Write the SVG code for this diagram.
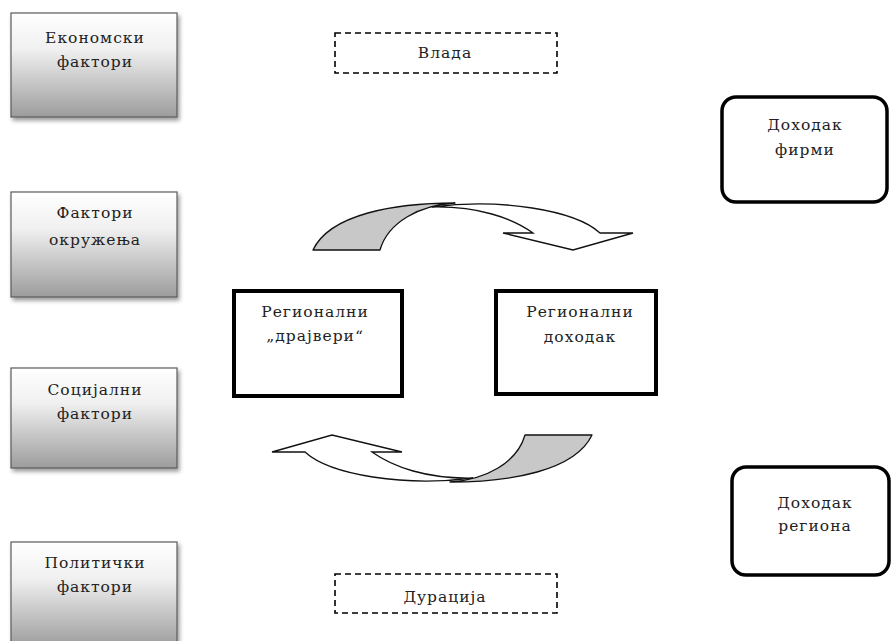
<svg xmlns="http://www.w3.org/2000/svg" width="892" height="641" viewBox="0 0 892 641">
<defs>
<linearGradient id="g" x1="0" y1="0" x2="0" y2="1">
<stop offset="0" stop-color="#ffffff"/>
<stop offset="0.35" stop-color="#f0f0f0"/>
<stop offset="1" stop-color="#9c9c9c"/>
</linearGradient>
<filter id="sh" x="-10%" y="-10%" width="130%" height="130%">
<feGaussianBlur in="SourceAlpha" stdDeviation="2"/>
<feOffset dx="2" dy="3" result="b"/>
<feComponentTransfer><feFuncA type="linear" slope="0.4"/></feComponentTransfer>
<feMerge><feMergeNode/><feMergeNode in="SourceGraphic"/></feMerge>
</filter>
<g id="curvedArrow">
<path class="back" d="M313,250 C330,214 395,203 455,203 C420,205 388,222 380,250 Z"/>
<path class="front" d="M432,207 C500,198 575,210 600,233 L633,233 L573,250 L503,233 L533,233 C512,218 478,206 432,207 Z"/>
</g>
</defs>
<style>
text{font-family:"DejaVu Serif","Liberation Serif",serif;font-size:15.5px;letter-spacing:1px;fill:#222;text-anchor:middle}
.grad{fill:url(#g);stroke:#5a5a5a;stroke-width:1.2;filter:url(#sh)}
.thick{fill:#fff;stroke:#000;stroke-width:4}
.round{fill:#fff;stroke:#000;stroke-width:3.5}
.dash{fill:#fff;stroke:#000;stroke-width:1.6;stroke-dasharray:6,4}
.back{fill:#c8c8c8;stroke:#111;stroke-width:1.3;stroke-linejoin:round}
.front{fill:#fff;stroke:#111;stroke-width:1.3;stroke-linejoin:miter}
</style>
<rect width="892" height="641" fill="#fff"/>

<g id="n-ekonomski">
<rect class="grad" x="11" y="13" width="166" height="104"/>
<text x="95" y="43">Економски</text>
<text x="95" y="67">фактори</text>
</g>
<g id="n-okruzenja">
<rect class="grad" x="11" y="192" width="166" height="105"/>
<text x="95" y="218">Фактори</text>
<text x="95" y="245">окружења</text>
</g>
<g id="n-socijalni">
<rect class="grad" x="11" y="368" width="166" height="100"/>
<text x="95" y="395">Социјални</text>
<text x="95" y="419">фактори</text>
</g>
<g id="n-politicki">
<rect class="grad" x="11" y="542" width="166" height="105"/>
<text x="95" y="568">Политички</text>
<text x="95" y="592">фактори</text>
</g>

<g id="n-vlada">
<rect class="dash" x="335" y="33" width="222" height="40"/>
<text x="445" y="58">Влада</text>
</g>
<g id="n-duracija">
<rect class="dash" x="335" y="574" width="222" height="39"/>
<text x="445" y="602">Дурација</text>
</g>

<g id="n-drajveri">
<rect class="thick" x="234" y="291" width="168" height="105"/>
<text x="315" y="317">Регионални</text>
<text x="315" y="341">„драјвери“</text>
</g>
<g id="n-dohodak">
<rect class="thick" x="496" y="291" width="160" height="103"/>
<text x="580" y="317">Регионални</text>
<text x="580" y="342">доходак</text>
</g>

<g id="n-firmi">
<rect class="round" x="722" y="97" width="165" height="105" rx="14"/>
<text x="805" y="130">Доходак</text>
<text x="805" y="155">фирми</text>
</g>
<g id="n-regiona">
<rect class="round" x="732" y="467" width="157" height="108" rx="14"/>
<text x="815" y="508">Доходак</text>
<text x="815" y="531">региона</text>
</g>

<g id="connectors">
<use href="#curvedArrow"/>
<use href="#curvedArrow" transform="matrix(-1,0,0,-1,905,685)"/>
</g>
</svg>
